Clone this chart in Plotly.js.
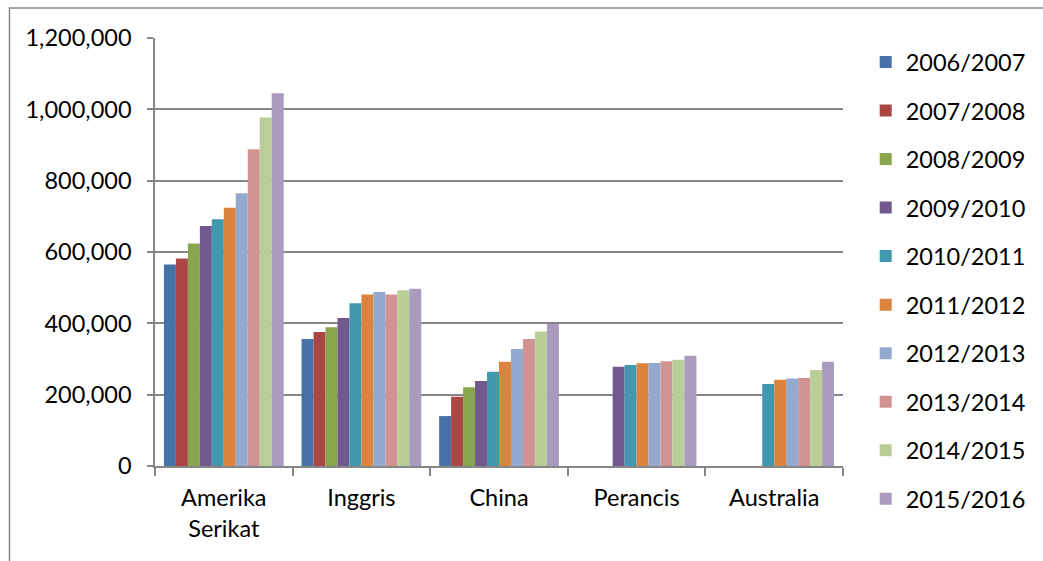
<!DOCTYPE html>
<html>
<head>
<meta charset="utf-8">
<script src="https://cdn.plot.ly/plotly-3.0.1.min.js"></script>
<style>html,body{margin:0;padding:0;background:#fff;}#chart{width:1043px;height:561px;}</style>
</head>
<body>
<div id="chart"></div>
<script>
const categories = ["Amerika<br>Serikat", "Inggris", "China", "Perancis", "Australia"];
const seriesNames = ["2006/2007","2007/2008","2008/2009","2009/2010","2010/2011","2011/2012","2012/2013","2013/2014","2014/2015","2015/2016"];
const s2006 = [565000, 356000, 140000, null, null];
const s2007 = [582000, 376000, 194000, null, null];
const s2008 = [624000, 389000, 221000, null, null];
const s2009 = [673000, 415000, 238000, 278000, null];
const s2010 = [692000, 456000, 264000, 283000, 230000];
const s2011 = [724000, 481000, 292000, 288000, 242000];
const s2012 = [765000, 488000, 328000, 289000, 245000];
const s2013 = [888000, 481000, 356000, 294000, 247000];
const s2014 = [977000, 493000, 377000, 298000, 269000];
const s2015 = [1045000, 497000, 398000, 309000, 292000];
const seriesValues = [s2006, s2007, s2008, s2009, s2010, s2011, s2012, s2013, s2014, s2015];
const colors = ["#4672A8","#AA4644","#89A54E","#71588F","#4198AF","#DB843D","#93A9CF","#D19392","#B9CD96","#A99BBD"];

const FONT = "Lato, 'Open Sans', sans-serif";
const FS = 23.5;
const traces = seriesNames.map((name, i) => ({
  type: "bar",
  name: name,
  x: categories,
  y: seriesValues[i],
  legendgroup: "g" + i,
  marker: {color: colors[i], line: {width: 0}},
  hoverinfo: "x+y+name"
}));

const layout = {
  width: 1043, height: 561,
  margin: {l: 155, r: 198, t: 38, b: 95},
  paper_bgcolor: "#fff", plot_bgcolor: "#fff",
  font: {family: FONT, size: FS, color: "#000"},
  barmode: "group",
  bargap: 0.13,
  bargroupgap: 0,
  showlegend: true,
  legend: {
    x: 1.033, xanchor: "left", y: 0.995, yanchor: "top",
    font: {family: FONT, size: FS, color: "#000"},
    tracegroupgap: 15, traceorder: "grouped",
    maxheight: 1000,
    bgcolor: "rgba(0,0,0,0)"
  },
  xaxis: {
    type: "category",
    showgrid: false,
    showline: true, linecolor: "#868686", linewidth: 1.5,
    ticks: "outside", tickson: "boundaries", ticklen: 8, tickcolor: "#868686", tickwidth: 1.5,
    tickfont: {family: FONT, size: FS, color: "#000"},
    ticklabelstandoff: 10,
    fixedrange: true
  },
  yaxis: {
    range: [0, 1200000], dtick: 200000, tick0: 0,
    tickformat: ",d",
    showgrid: true, gridcolor: "#868686", gridwidth: 1.5,
    showline: true, linecolor: "#868686", linewidth: 1.5,
    ticks: "outside", ticklen: 6, tickcolor: "#868686", tickwidth: 1.5,
    tickfont: {family: FONT, size: FS, color: "#000"},
    ticklabelstandoff: 11,
    zeroline: false,
    fixedrange: true
  },
  shapes: [{
    type: "rect", xref: "paper", yref: "paper",
    x0: -0.2115, x1: 1.6, y0: -0.5, y1: 1.0701,
    line: {color: "#868686", width: 1.5}, fillcolor: "rgba(0,0,0,0)", layer: "below"
  }]
};

Plotly.newPlot("chart", traces, layout, {displayModeBar: false, staticPlot: false});
</script>
</body>
</html>
